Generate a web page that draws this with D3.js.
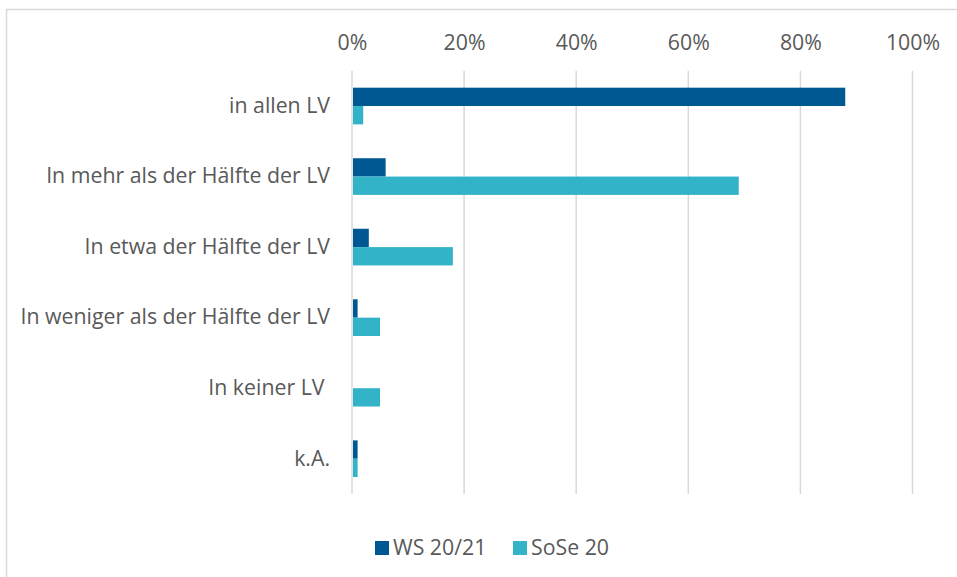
<!DOCTYPE html>
<html><head><meta charset="utf-8">
<script src="https://cdn.jsdelivr.net/npm/d3@7"></script>
<style>body{margin:0;background:#fff}svg{display:block}text{font-family:"Open Sans","Liberation Sans",Arial,sans-serif;fill:#595959}</style>
</head><body><svg id="c" width="957" height="577"></svg>
<script>
const categories = ["in allen LV","In mehr als der Hälfte der LV","In etwa der Hälfte der LV","In weniger als der Hälfte der LV","In keiner LV ","k.A."];
const seriesNames = ["WS 20/21","SoSe 20"];
const ws2021 = [88, 6, 3, 1, 0, 1];
const sose20 = [2, 69, 18, 5, 5, 1];
const tickValues = [0, 20, 40, 60, 80, 100];
const colors = ["#005893", "#33B3C8"];

const svg = d3.select("#c");
svg.append("rect").attr("x",6.5).attr("y",9.5).attr("width",1000).attr("height",1000)
  .attr("fill","none").attr("stroke","#d9d9d9").attr("stroke-width",1.5);

const m = {left:352, right:912.5, top:70.75, bottom:494};
const x = d3.scaleLinear().domain([0,100]).range([m.left, m.right]);
const y = d3.scaleBand().domain(categories).range([m.top, m.bottom]).paddingInner(0.48).paddingOuter(0.24);
const ys = d3.scaleBand().domain(seriesNames).range([0, y.bandwidth()]);

// gridlines
svg.append("g").selectAll("line").data(tickValues).join("line")
  .attr("x1",d=>x(d)).attr("x2",d=>x(d)).attr("y1",m.top).attr("y2",m.bottom)
  .attr("stroke","#d9d9d9").attr("stroke-width",1.5);

// top axis labels
const ax = svg.append("g").attr("transform",`translate(0,50)`)
  .call(d3.axisTop(x).tickValues(tickValues).tickFormat(d=>d+"%").tickSize(0).tickPadding(0));
ax.select(".domain").remove();
ax.selectAll("text").attr("font-size",21.3).attr("fill","#595959").attr("font-family",null);

// bars
const data = categories.map((c,i)=>({c, vals:[ws2021[i], sose20[i]]}));
const g = svg.append("g");
data.forEach(d=>{
  d.vals.forEach((v,j)=>{
    if (v<=0) return;
    g.append("rect").attr("x",x(0)+1).attr("y",y(d.c)+ys(seriesNames[j]))
      .attr("width",x(v)-x(0)-1).attr("height",ys.bandwidth()).attr("fill",colors[j]);
  });
});

// category labels
const ay = svg.append("g").attr("transform",`translate(330,0)`)
  .call(d3.axisLeft(y).tickSize(0).tickPadding(0));
ay.select(".domain").remove();
ay.selectAll("text").attr("font-size",21.3).attr("fill","#595959").attr("font-family",null)
  .style("white-space","pre").attr("xml:space","preserve");

// legend
const lg = svg.append("g");
const lx = [375, 513];
seriesNames.forEach((s,i)=>{
  lg.append("rect").attr("x",lx[i]).attr("y",541).attr("width",14).attr("height",14).attr("fill",colors[i]);
  lg.append("text").attr("x",lx[i]+18).attr("y",548).attr("dy","0.35em").attr("font-size",21.3).text(s);
});
</script></body></html>
